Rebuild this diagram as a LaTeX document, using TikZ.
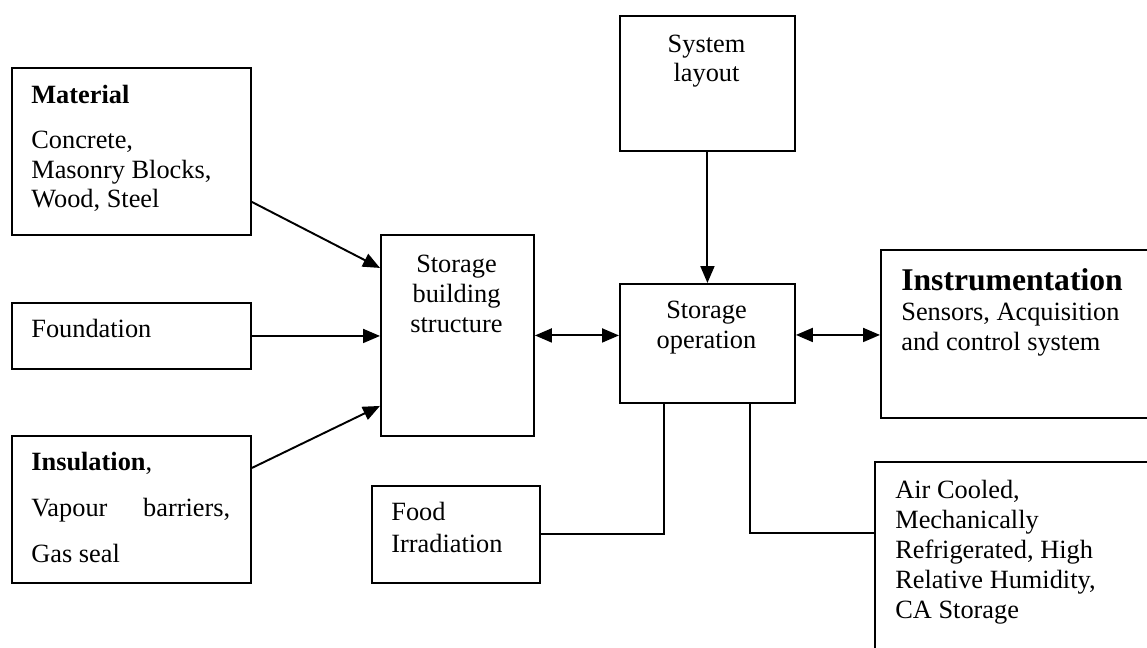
\documentclass[tikz,border=0pt]{standalone}
\usepackage{fontspec}
\setmainfont{Liberation Serif}
\usetikzlibrary{arrows.meta}

\begin{document}
\begin{tikzpicture}[
        x=0.02cm, y=0.02cm,
        box/.style={draw, line width=1.1pt, inner sep=0pt, anchor=north west},
        txt/.style={font=\fontsize{15}{17}\selectfont, inner sep=0pt, align=left, anchor=base west},
        ctxt/.style={txt, align=center, anchor=base},
        link/.style={line width=1.1pt},
        flow/.style={link, -{Triangle[length=0.34cm, width=0.28cm]}},
        both/.style={link, {Triangle[length=0.34cm, width=0.28cm]}-{Triangle[length=0.34cm, width=0.28cm]}},
    ]
    \useasboundingbox (0,0) rectangle (1147,647);
    \clip (0,0) rectangle (1147,647);

    % --- cajas de la izquierda ---
    \node[box, minimum width=4.78cm, minimum height=3.34cm] (mat) at (11,580) {};
    \node[box, minimum width=4.78cm, minimum height=1.32cm] (fnd) at (11,345) {};
    \node[box, minimum width=4.78cm, minimum height=2.94cm] (ins) at (11,212) {};

    % --- cajas del centro ---
    \node[box, minimum width=3.06cm, minimum height=4.02cm] (sbs) at (380,413) {};
    \node[box, minimum width=3.5cm, minimum height=2.7cm] (lay) at (619,632) {};
    \node[box, minimum width=3.5cm, minimum height=2.38cm] (op) at (619,364) {};
    \node[box, minimum width=3.36cm, minimum height=1.94cm] (food) at (371,162) {};

    % --- cajas de la derecha ---
    \node[box, minimum width=5.6cm, minimum height=3.36cm] (instr) at (880,398) {};
    \node[box, minimum width=5.8cm, minimum height=4.4cm] (air) at (874,186) {};

    % --- textos (base = ultima linea) ---
    \node[txt] (matt) at (31,439) {\textbf{Material}\\[8.5pt] Concrete,\\ Masonry Blocks,\\ Wood, Steel};
    \node[txt] (fndt) at (31,310) {Foundation};
    \node[txt] (inst) at (31,85) {\textbf{Insulation},\\[9pt] \makebox[3.98cm][s]{Vapour barriers,}\\[9pt] Gas seal};
    \node[ctxt] (sbst) at (456.5,315) {Storage\\ building\\ structure};
    \node[ctxt] (layt) at (706.5,565) {System\\ layout};
    \node[ctxt] (opt) at (706.5,299) {Storage\\ operation};
    \node[txt] (foodt) at (391,95) {Food\\[1pt] Irradiation};
    \node[txt] (instrt) at (901,297) {{\fontsize{18}{17}\selectfont\bfseries Instrumentation}\\ Sensors, Acquisition\\ and control system};
    \node[txt] (airt) at (895,29) {Air Cooled,\\ Mechanically\\ Refrigerated, High\\ Relative Humidity,\\ CA Storage};

    % --- flechas ---
    \draw[flow] ([yshift=-1.01cm]mat.east) -- ([yshift=1.35cm]sbs.west);
    \draw[flow] (fnd.east) -- (fnd.east -| sbs.west);
    \draw[flow] ([yshift=0.83cm]ins.east) -- ([yshift=-1.41cm]sbs.west);
    \draw[both] (sbs.east) -- (sbs.east -| op.west);
    \draw[both] ([yshift=0.17cm]op.east) -- ([yshift=0.17cm]op.east -| instr.west);
    \draw[flow] (lay.south) -- (op.north);

    % --- lineas sin flecha ---
    \draw[link] ([xshift=-0.87cm]op.south) |- (food.east);
    \draw[link] ([xshift=0.85cm]op.south) |- ([yshift=-1.44cm]air.north west);
\end{tikzpicture}
\end{document}
